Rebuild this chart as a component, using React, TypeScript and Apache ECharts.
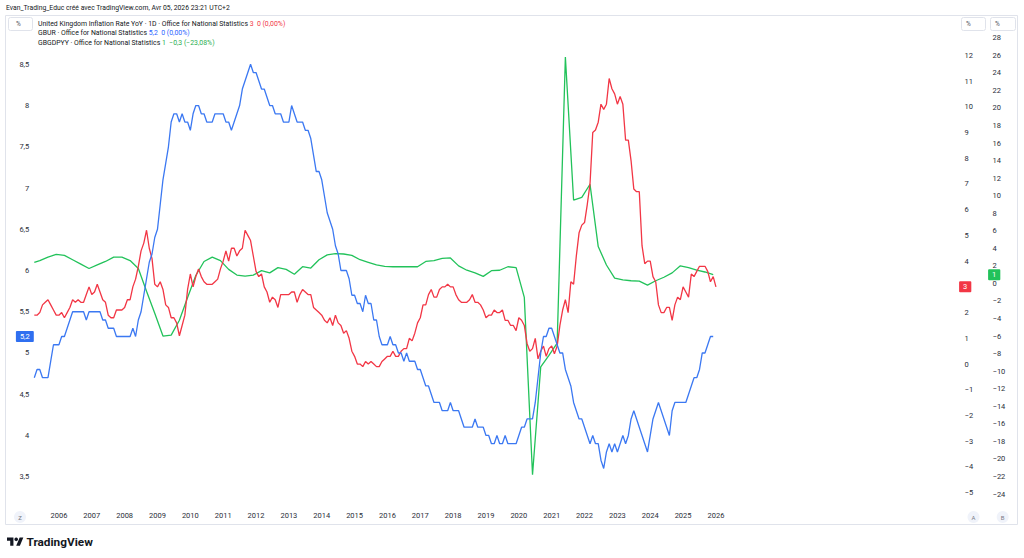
import React, { useEffect, useRef } from "react";
import * as echarts from "echarts";

// ---------- DATA ----------
// Monthly categories from 2005-04 (left edge of the visible range) to 2033-04 (right edge)
const START_YEAR = 2005;
const START_MONTH = 4;
const MONTH_COUNT = 337;
const months: string[] = Array.from({ length: MONTH_COUNT }, (_, i) => {
  const t = START_MONTH - 1 + i;
  const y = START_YEAR + Math.floor(t / 12);
  const m = (t % 12) + 1;
  return `${y}-${String(m).padStart(2, "0")}`;
});
const yearTickFirst = 2006;
const yearTickLast = 2026;

// UK CPI inflation YoY (%), monthly from 2005-04 to 2026-01
const inflation = [
  1.9, 1.9, 2.0, 2.3, 2.4, 2.5, 2.3, 2.1, 1.9,
  1.9, 2.0, 1.8, 2.0, 2.2, 2.5, 2.4, 2.5, 2.4, 2.4, 2.7, 3.0,
  2.7, 2.8, 3.1, 2.8, 2.5, 2.4, 1.9, 1.8, 1.8, 2.1, 2.1, 2.1,
  2.2, 2.5, 2.5, 3.0, 3.3, 3.8, 4.4, 4.7, 5.2, 4.5, 4.1, 3.1,
  3.0, 3.2, 2.9, 2.3, 2.2, 1.8, 1.8, 1.6, 1.1, 1.5, 1.9, 2.9,
  3.5, 3.0, 3.4, 3.7, 3.4, 3.2, 3.1, 3.1, 3.1, 3.2, 3.3, 3.7,
  4.0, 4.4, 4.0, 4.5, 4.5, 4.2, 4.4, 4.5, 5.2, 5.0, 4.8, 4.2,
  3.6, 3.4, 3.5, 3.0, 2.8, 2.4, 2.6, 2.5, 2.2, 2.7, 2.7, 2.7,
  2.7, 2.8, 2.8, 2.4, 2.7, 2.9, 2.8, 2.7, 2.7, 2.2, 2.1, 2.0,
  1.9, 1.7, 1.6, 1.8, 1.5, 1.9, 1.6, 1.5, 1.2, 1.3, 1.0, 0.5,
  0.3, 0.0, 0.0, -0.1, 0.1, 0.0, 0.1, 0.0, -0.1, -0.1, 0.1, 0.2,
  0.3, 0.3, 0.5, 0.3, 0.3, 0.5, 0.6, 0.6, 1.0, 0.9, 1.2, 1.6,
  1.8, 2.3, 2.3, 2.7, 2.9, 2.6, 2.6, 2.9, 3.0, 3.0, 3.1, 3.0,
  3.0, 2.7, 2.5, 2.4, 2.4, 2.4, 2.5, 2.7, 2.4, 2.4, 2.3, 2.1,
  1.8, 1.9, 1.9, 2.1, 2.0, 2.0, 2.1, 1.7, 1.7, 1.5, 1.5, 1.3,
  1.8, 1.7, 1.5, 0.8, 0.5, 0.6, 1.0, 0.2, 0.5, 0.7, 0.3, 0.6,
  0.7, 0.4, 0.7, 1.5, 2.1, 2.5, 2.0, 3.2, 3.1, 4.2, 5.1, 5.4,
  5.5, 6.2, 7.0, 9.0, 9.1, 9.4, 10.1, 9.9, 10.1, 11.1, 10.7, 10.5,
  10.1, 10.4, 10.1, 8.7, 8.7, 7.9, 6.8, 6.7, 6.7, 4.6, 3.9, 4.0,
  4.0, 3.4, 3.2, 2.3, 2.0, 2.0, 2.2, 2.2, 1.7, 2.3, 2.6, 2.5,
  3.0, 2.8, 2.6, 3.5, 3.4, 3.6, 3.8, 3.8, 3.8, 3.6, 3.2, 3.4,
  3.0,
];

// UK unemployment rate GBUR (%), monthly from 2005-04 to 2025-12
const unemployment = [
  4.7, 4.8, 4.8, 4.7, 4.7, 4.7, 4.9, 5.1, 5.1,
  5.1, 5.2, 5.2, 5.3, 5.4, 5.5, 5.5, 5.5, 5.5, 5.5, 5.4, 5.5,
  5.5, 5.5, 5.5, 5.5, 5.4, 5.4, 5.3, 5.3, 5.3, 5.2, 5.2, 5.2,
  5.2, 5.2, 5.2, 5.3, 5.2, 5.4, 5.5, 5.7, 5.9, 6.1, 6.2, 6.4,
  6.5, 6.8, 7.1, 7.3, 7.5, 7.8, 7.9, 7.9, 7.8, 7.9, 7.8, 7.8,
  7.7, 7.9, 8.0, 8.0, 7.9, 7.9, 7.8, 7.8, 7.8, 7.9, 7.9, 7.9,
  7.9, 7.8, 7.8, 7.7, 7.8, 7.9, 8.0, 8.2, 8.3, 8.4, 8.5, 8.4,
  8.4, 8.3, 8.2, 8.2, 8.1, 8.0, 8.0, 7.9, 7.9, 7.9, 7.8, 7.8,
  7.8, 8.0, 7.9, 7.8, 7.8, 7.8, 7.7, 7.7, 7.6, 7.4, 7.2, 7.2,
  7.1, 6.9, 6.7, 6.6, 6.5, 6.3, 6.2, 6.0, 6.0, 6.0, 5.9, 5.7,
  5.7, 5.6, 5.6, 5.5, 5.7, 5.6, 5.6, 5.4, 5.4, 5.2, 5.1, 5.1,
  5.1, 5.2, 5.1, 5.1, 5.0, 5.0, 4.9, 5.0, 4.9, 4.9, 4.9, 4.8,
  4.8, 4.7, 4.6, 4.6, 4.5, 4.4, 4.4, 4.4, 4.3, 4.3, 4.3, 4.4,
  4.3, 4.3, 4.3, 4.2, 4.1, 4.1, 4.1, 4.1, 4.2, 4.1, 4.1, 4.1,
  4.0, 4.0, 3.9, 3.9, 4.0, 3.9, 3.9, 4.0, 3.9, 3.9, 3.9, 3.9,
  4.0, 4.1, 4.1, 4.2, 4.2, 4.2, 4.4, 4.7, 5.0, 5.2, 5.2, 5.3,
  5.3, 5.2, 5.1, 5.0, 5.0, 4.8, 4.7, 4.6, 4.4, 4.3, 4.2, 4.2,
  4.1, 4.0, 3.9, 4.0, 3.9, 3.9, 3.7, 3.6, 3.8, 3.9, 3.8, 3.9,
  3.8, 3.9, 4.0, 3.9, 4.0, 4.2, 4.3, 4.2, 4.1, 4.0, 3.9, 3.8,
  4.0, 4.2, 4.3, 4.4, 4.3, 4.2, 4.1, 4.0, 4.3, 4.4, 4.4, 4.4,
  4.4, 4.4, 4.5, 4.6, 4.7, 4.7, 4.8, 5.0, 5.0, 5.1, 5.2, 5.2,
];

// UK GDP YoY (%), quarterly, dated at quarter-end month; first value at left edge (2005-04)
const gdpMonths: string[] = ["2005-04"].concat(
  Array.from({ length: 83 }, (_, i) => {
    const t = 5 + i * 3; // 2005-06 = month offset 5 from 2005-01
    const y = 2005 + Math.floor(t / 12);
    const m = (t % 12) + 1;
    return `${y}-${String(m).padStart(2, "0")}`;
  })
);
const gdpYoY = [
  2.4,
  2.6, 3.0, 3.3,
  3.2, 2.7, 2.2, 1.7,
  2.1, 2.5, 3.0, 3.0,
  2.6, 1.7, -0.9, -3.4,
  -6.0, -5.9, -4.2, -1.6,
  0.9, 2.5, 3.0, 2.6,
  1.6, 0.95, 0.84, 0.95,
  1.45, 1.2, 1.8, 1.6,
  1.05, 1.9, 1.75, 2.7,
  3.25, 3.4, 3.35, 3.2,
  2.7, 2.4, 2.1, 1.95,
  1.9, 1.9, 1.9, 1.9,
  2.5, 2.6, 2.85, 2.9,
  2.0, 1.5, 1.2, 0.8,
  1.45, 1.5, 1.9, 1.8,
  -1.6, -21.8, -9.5, -8.2,
  -6.8, 25.8, 9.5, 9.8,
  11.3, 4.2, 2.1, 0.6,
  0.4, 0.3, 0.25, -0.2,
  0.3, 0.7, 1.2, 2.0,
  1.8, 1.5, 1.3, 1.0,
];

// axis ranges
const leftAxis = { min: 3.5, max: 8.5, interval: 0.5 };
const infAxis = { min: -5, max: 12, interval: 1 };
const gdpAxis = { min: -24, max: 28, interval: 2 };

// ---------- STYLE ----------
const RED = "#f23645";
const BLUE = "#3b78f2";
const BLUE_BOX = "#2f6ff0";
const GREEN = "#22c25a";
const GREEN_TXT = "#1fae50";
const TXT = "#131722";
const FONT = "Roboto, 'Noto Sans', sans-serif";
const LEGEND_FS = 6.9;

const fmt = (v: number) => {
  const s = String(Math.round(Math.abs(v) * 100) / 100).replace(".", ",");
  return (v < 0 ? "\u2212" : "") + s;
};

const TV_LOGO = "M14 22H7V11H0V4h14v18zM28 22h-8l7.5-18h8L28 22z";

let shapeRegistered = false;

export default function App() {
  const ref = useRef<HTMLDivElement>(null);

  useEffect(() => {
    if (!ref.current) return;
    if (!shapeRegistered) {
      echarts.graphic.registerShape(
        "tvlogo",
        echarts.graphic.extendPath(TV_LOGO as any, {}) as any
      );
      shapeRegistered = true;
    }
    const chart = echarts.init(ref.current, undefined, { renderer: "svg" });

    const lastInf = inflation[inflation.length - 1];
    const lastUnemp = unemployment[unemployment.length - 1];
    const lastGdp = gdpYoY[gdpYoY.length - 1];
    const prevGdp = gdpYoY[gdpYoY.length - 2];
    const gdpDiff = lastGdp - prevGdp;
    const gdpPct = (gdpDiff / prevGdp) * 100;
    const gdpDiffStr = fmt(Number(gdpDiff.toFixed(1)));
    const gdpPctStr =
      (gdpPct < 0 ? "\u2212" : "") + Math.abs(gdpPct).toFixed(2).replace(".", ",") + "%";

    const gridLeft = 34.3;
    const gridRight = 69.9;

    const baseX = (gridIndex: number, show: boolean) => ({
      type: "category",
      gridIndex,
      data: months,
      boundaryGap: false,
      axisLine: { show: false },
      axisTick: { show: false },
      splitLine: { show: false },
      axisLabel: show
        ? {
            show: true,
            interval: (_i: number, v: string) => {
              if (!v.endsWith("-01")) return false;
              const y = Number(v.slice(0, 4));
              return y >= yearTickFirst && y <= yearTickLast;
            },
            formatter: (v: string) => v.slice(0, 4),
            fontSize: 7.5,
            fontFamily: FONT,
            color: "#2a2e39",
            margin: 17,
          }
        : { show: false },
    });

    const yLabel = {
      fontSize: 7.5,
      fontFamily: FONT,
      color: "#2a2e39",
      formatter: (v: number) => fmt(v),
    };

    const priceMark = (bg: string, pos: string, distance: number, value: number) => ({
      silent: true,
      symbol: ["none", "none"],
      lineStyle: { color: "rgba(0,0,0,0)", width: 1, type: "solid" },
      label: {
        show: true,
        position: pos,
        distance,
        formatter: () => fmt(value),
        backgroundColor: bg,
        color: "#ffffff",
        fontSize: 7.5,
        fontFamily: FONT,
        padding: [1.5, 4, 1.5, 4],
        borderRadius: 1,
      },
      emphasis: { disabled: true },
      data: [{ yAxis: value }],
    });

    const legendRich = (valueColor: string) => ({
      a: { fill: TXT, fontSize: LEGEND_FS, fontFamily: FONT },
      v: { fill: valueColor, fontSize: LEGEND_FS, fontFamily: FONT },
    });

    const option: any = {
      animation: false,
      backgroundColor: "#ffffff",
      grid: [
        { left: gridLeft, right: gridRight, top: 64.3, bottom: 558 - 476.7 },
        { left: gridLeft, right: gridRight, top: 55.3, bottom: 558 - 492.7 },
        { left: gridLeft, right: gridRight, top: 37.7, bottom: 558 - 494 },
      ],
      xAxis: [baseX(0, false), baseX(1, false), baseX(2, true)],
      yAxis: [
        {
          type: "value",
          gridIndex: 0,
          position: "left",
          ...leftAxis,
          axisLine: { show: false },
          axisTick: { show: false },
          splitLine: { show: false },
          axisLabel: { ...yLabel, margin: 5 },
        },
        {
          type: "value",
          gridIndex: 1,
          position: "right",
          ...infAxis,
          axisLine: { show: false },
          axisTick: { show: false },
          splitLine: { show: false },
          axisLabel: { ...yLabel, margin: 10.5, align: "left" },
        },
        {
          type: "value",
          gridIndex: 2,
          position: "right",
          offset: 28,
          ...gdpAxis,
          axisLine: { show: false },
          axisTick: { show: false },
          splitLine: { show: false },
          axisLabel: { ...yLabel, margin: 10.5, align: "left" },
        },
      ],
      series: [
        {
          name: "GBGDPYY",
          type: "line",
          xAxisIndex: 2,
          yAxisIndex: 2,
          data: gdpMonths.map((m, i) => [m, gdpYoY[i]]),
          showSymbol: false,
          clip: false,
          lineStyle: { color: GREEN, width: 1.3 },
          itemStyle: { color: GREEN },
          markLine: priceMark(GREEN, "end", 34, lastGdp),
        },
        {
          name: "Inflation",
          type: "line",
          xAxisIndex: 1,
          yAxisIndex: 1,
          data: inflation,
          showSymbol: false,
          clip: false,
          lineStyle: { color: RED, width: 1.3 },
          itemStyle: { color: RED },
          markLine: priceMark(RED, "end", 5, lastInf),
        },
        {
          name: "GBUR",
          type: "line",
          xAxisIndex: 0,
          yAxisIndex: 0,
          data: unemployment,
          showSymbol: false,
          clip: false,
          lineStyle: { color: BLUE, width: 1.3 },
          itemStyle: { color: BLUE },
          markLine: priceMark(BLUE_BOX, "start", 0.5, lastUnemp),
        },
      ],
      graphic: [
        {
          type: "rect",
          silent: true,
          z: -10,
          shape: { x: 5.5, y: 15.5, width: 1012, height: 509 },
          style: { fill: "none", stroke: "#e0e3eb", lineWidth: 1 },
        },
        {
          type: "text",
          x: 6,
          y: 8,
          style: {
            text: "Evan_Trading_Educ créé avec TradingView.com, Avr 05, 2026 23:21 UTC+2",
            fontSize: 6.8,
            fontFamily: FONT,
            fill: TXT,
            verticalAlign: "middle",
          },
        },
        {
          type: "rect",
          shape: { x: 8.5, y: 17.5, width: 24, height: 13, r: 2 },
          style: { fill: "#fff", stroke: "#e0e3eb", lineWidth: 1 },
        },
        {
          type: "text",
          x: 16,
          y: 24,
          style: { text: "%", fontSize: 6.5, fontFamily: FONT, fill: "#50535e", verticalAlign: "middle" },
        },
        {
          type: "rect",
          shape: { x: 961.5, y: 17.5, width: 24, height: 13, r: 2 },
          style: { fill: "#fff", stroke: "#e0e3eb", lineWidth: 1 },
        },
        {
          type: "text",
          x: 966,
          y: 24,
          style: { text: "%", fontSize: 6.5, fontFamily: FONT, fill: "#50535e", verticalAlign: "middle" },
        },
        {
          type: "rect",
          shape: { x: 990.5, y: 17.5, width: 25, height: 13, r: 2 },
          style: { fill: "#fff", stroke: "#e0e3eb", lineWidth: 1 },
        },
        {
          type: "text",
          x: 995,
          y: 24,
          style: { text: "%", fontSize: 6.5, fontFamily: FONT, fill: "#50535e", verticalAlign: "middle" },
        },
        {
          type: "text",
          x: 38,
          y: 23.5,
          style: {
            text:
              "{a|United Kingdom Inflation Rate YoY · 1D · Office for National Statistics}{v| " +
              fmt(lastInf) +
              "  0 (0,00%)}",
            verticalAlign: "middle",
            rich: legendRich(RED),
          },
        },
        {
          type: "text",
          x: 38,
          y: 33,
          style: {
            text:
              "{a|GBUR · Office for National Statistics}{v| " + fmt(lastUnemp) + "  0 (0,00%)}",
            verticalAlign: "middle",
            rich: legendRich("#2962ff"),
          },
        },
        {
          type: "text",
          x: 38,
          y: 42.5,
          style: {
            text:
              "{a|GBGDPYY · Office for National Statistics}{v| " +
              fmt(lastGdp) +
              "  " +
              gdpDiffStr +
              " (" +
              gdpPctStr +
              ")}",
            verticalAlign: "middle",
            rich: legendRich(GREEN_TXT),
          },
        },
        { type: "circle", shape: { cx: 20, cy: 517, r: 6 }, style: { fill: "#f0f3fa" } },
        {
          type: "text",
          x: 20,
          y: 517,
          style: { text: "Z", fontSize: 6, fontFamily: FONT, fill: "#787b86", align: "center", verticalAlign: "middle" },
        },
        { type: "circle", shape: { cx: 973.5, cy: 517, r: 6 }, style: { fill: "#f0f3fa" } },
        {
          type: "text",
          x: 973.5,
          y: 517,
          style: { text: "A", fontSize: 6, fontFamily: FONT, fill: "#787b86", align: "center", verticalAlign: "middle" },
        },
        { type: "circle", shape: { cx: 1002.7, cy: 517, r: 6 }, style: { fill: "#f0f3fa" } },
        {
          type: "text",
          x: 1002.7,
          y: 517,
          style: { text: "B", fontSize: 6, fontFamily: FONT, fill: "#787b86", align: "center", verticalAlign: "middle" },
        },
        {
          type: "tvlogo",
          x: 7,
          y: 535.6,
          scaleX: 0.46,
          scaleY: 0.46,
          style: { fill: TXT },
        },
        {
          type: "circle",
          shape: { cx: 7 + 20 * 0.46, cy: 535.6 + 8 * 0.46, r: 4 * 0.46 },
          style: { fill: TXT },
        },
        {
          type: "text",
          x: 26.5,
          y: 541.5,
          style: {
            text: "TradingView",
            fontSize: 11.8,
            fontWeight: "bold",
            fontFamily: FONT,
            fill: TXT,
            verticalAlign: "middle",
          },
        },
      ],
    };

    chart.setOption(option);
    return () => chart.dispose();
  }, []);

  return (
    <div
      ref={ref}
      style={{ position: "fixed", left: 0, top: 0, width: 1024, height: 558, background: "#fff" }}
    />
  );
}
